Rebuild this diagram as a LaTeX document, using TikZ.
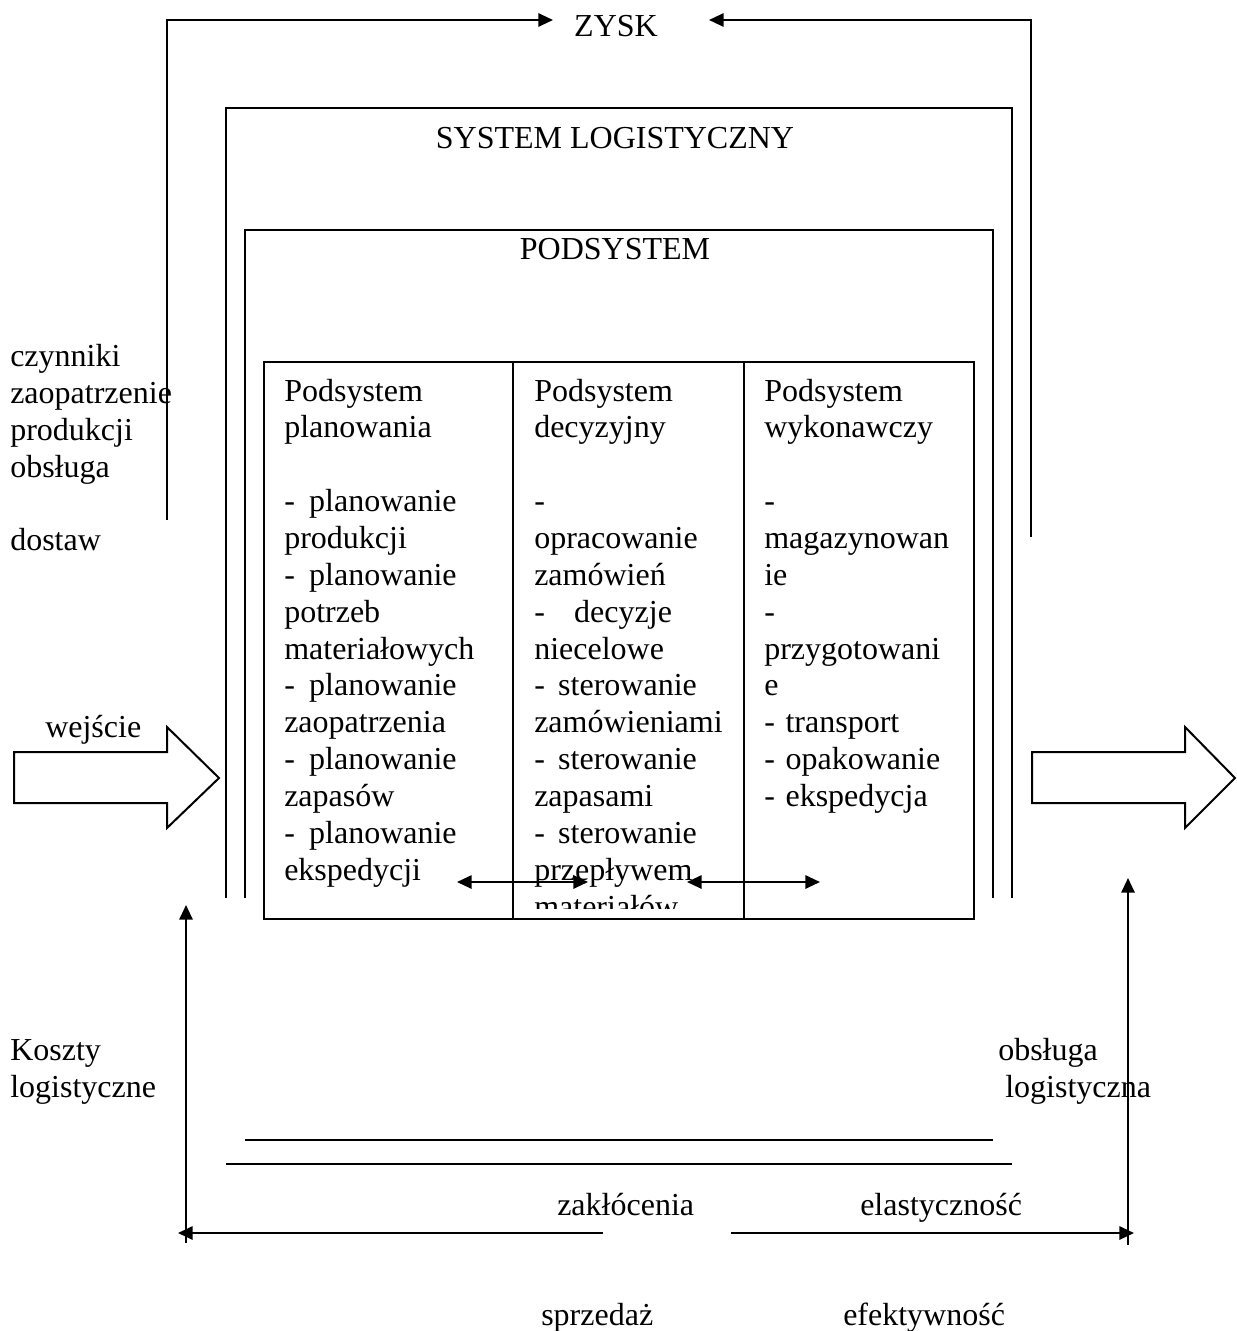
\documentclass[tikz,border=0pt]{standalone}
\usepackage{fontspec}
\setmainfont{Liberation Serif}
\usetikzlibrary{arrows.meta}
\begin{document}
\begin{tikzpicture}[x=0.75pt,y=-0.75pt,
  txt/.style={font=\fontsize{24}{27.64}\selectfont},
  frame/.style={line width=1.5pt,line cap=butt},
  flow/.style={line width=1.5pt,-{Triangle[length=11pt,width=10pt]}},
  dflow/.style={line width=1.5pt,{Triangle[length=11pt,width=10pt]}-{Triangle[length=11pt,width=10pt]}},
  lbl/.style={txt,inner sep=0pt,anchor=base west},
  ttl/.style={txt,inner sep=0pt,anchor=base},
  col/.style={txt,inner sep=0pt,anchor=north west,text width=170pt,align=left},
  block/.style={line width=1.5pt,fill=white,line join=miter}]
\useasboundingbox (0,0) rectangle (1236,1331);

% top: profit with the two feedback lines
\node[ttl] (zysk) at (616,37) {ZYSK};
\coordinate (zl0) at (167,520);
\coordinate (zl1) at (553,20);
\coordinate (zr0) at (1031,537);
\coordinate (zr1) at (709,20);
\draw[flow] (zl0) |- (zl1);
\draw[flow] (zr0) |- (zr1);

% logistic system frame (open at the bottom)
\draw[frame] (226,898) -- (226,108) -- (1012,108) -- (1012,898);
\node[ttl] (syslog) at (615,148) {SYSTEM LOGISTYCZNY};

% subsystem frame (open at the bottom)
\draw[frame] (245,898) -- (245,230) -- (993,230) -- (993,898);
\node[ttl] (podsys) at (615,259) {PODSYSTEM};

% table of the three subsystems
\draw[frame] (264,362) rectangle (974,919);
\draw[frame] (513,362) -- (513,919);
\draw[frame] (744,362) -- (744,919);

\node[col] (plan) at (284,375) {\strut Podsystem\\planowania\\\mbox{}\\-\hspace{10.7pt}planowanie\\produkcji\\-\hspace{10.7pt}planowanie\\potrzeb\\materiałowych\\-\hspace{10.7pt}planowanie\\zaopatrzenia\\-\hspace{10.7pt}planowanie\\zapasów\\-\hspace{10.7pt}planowanie\\ekspedycji};
\begin{scope}
  \clip (513,362) rectangle (744,908);
  \node[col] (decyz) at (534,375) {\strut Podsystem\\decyzyjny\\\mbox{}\\-\\opracowanie\\zamówień\\-\hspace{22pt}decyzje\\niecelowe\\-\hspace{10pt}sterowanie\\zamówieniami\\-\hspace{10pt}sterowanie\\zapasami\\-\hspace{10pt}sterowanie\\przepływem\\materiałów};
\end{scope}
\node[col] (wyk) at (764,375) {\strut Podsystem\\wykonawczy\\\mbox{}\\-\\magazynowan\\ie\\-\\przygotowani\\e\\- transport\\- opakowanie\\- ekspedycja};

% exchange between the subsystems
\coordinate (d1a) at (457,882);
\coordinate (d1b) at (588,882);
\coordinate (d2a) at (687,882);
\coordinate (d2b) at (820,882);
\draw[dflow] (d1a) -- (d1b);
\draw[dflow] (d2a) -- (d2b);

% left side labels
\node[lbl] (czyn) at (10,366) {czynniki};
\node[lbl] (zaop) at (10,403) {zaopatrzenie};
\node[lbl] (prod) at (10,440) {produkcji};
\node[lbl] (obsl) at (10,477) {obsługa};
\node[lbl] (dost) at (10,550) {dostaw};
\node[lbl] (wej) at (45,737) {wejście};

% input and output block arrows
\draw[block] (14,752) -- (167,752) -- (167,727) -- (219,778) -- (167,828) -- (167,803) -- (14,803) -- cycle;
\draw[block] (1032,752) -- (1185,752) -- (1185,727) -- (1235,778) -- (1185,828) -- (1185,803) -- (1032,803) -- cycle;

% bottom part
\node[lbl] (koszty) at (10,1060) {Koszty};
\node[lbl] (koszty2) at (10,1097) {logistyczne};
\node[lbl] (obslog) at (998,1060) {obsługa};
\node[lbl] (obslog2) at (1005,1097) {logistyczna};

\draw[frame] (245,1140) -- (993,1140);
\draw[frame] (226,1164) -- (1012,1164);

\node[lbl] (zakl) at (557,1215) {zakłócenia};
\node[lbl] (elast) at (860,1215) {elastyczność};
\node[lbl] (sprz) at (541,1325) {sprzedaż};
\node[lbl] (efekt) at (843,1325) {efektywność};

\coordinate (kv0) at (186,1243);
\coordinate (kv1) at (186,905);
\coordinate (kh0) at (603,1233);
\coordinate (kh1) at (178,1233);
\coordinate (oh0) at (731,1233);
\coordinate (oh1) at (1134,1233);
\coordinate (ov0) at (1128,1245);
\coordinate (ov1) at (1128,878);
\draw[flow] (kv0) -- (kv1);
\draw[flow] (kh0) -- (kh1);
\draw[flow] (oh0) -- (oh1);
\draw[flow] (ov0) -- (ov1);
\end{tikzpicture}
\end{document}
